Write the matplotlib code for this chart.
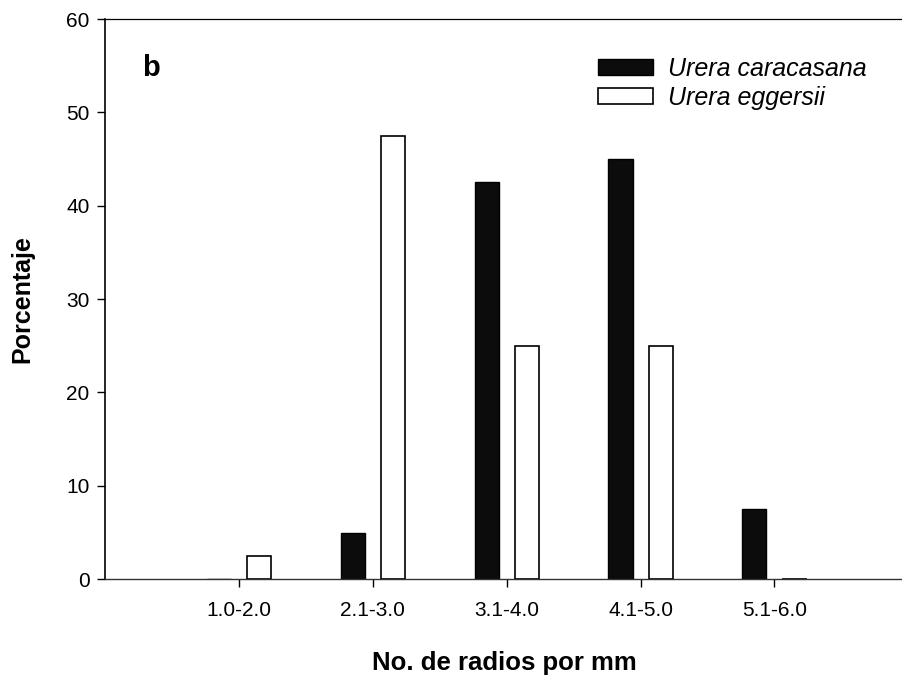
import matplotlib.pyplot as plt
import numpy as np

plt.rcParams['font.family'] = ['Liberation Sans', 'DejaVu Sans']

categorias = ['1.0-2.0', '2.1-3.0', '3.1-4.0', '4.1-5.0', '5.1-6.0']
caracasana = [0, 5, 42.5, 45, 7.5]
eggersii = [2.5, 47.5, 25, 25, 0]

x = np.arange(1, len(categorias) + 1)
ancho = 0.18

fig = plt.figure(figsize=(9.03, 6.79), dpi=100)
ax = fig.add_axes([0.1163, 0.147, 0.8837, 0.825])

ax.bar(x - 0.15, caracasana, ancho, color='#0c0c0c', edgecolor='black',
       linewidth=1.0, label='Urera caracasana')
ax.bar(x + 0.15, eggersii, ancho, color='white', edgecolor='black',
       linewidth=1.2, label='Urera eggersii')

ax.set_xlim(0, 5.96)
ax.set_ylim(0, 60)
ax.set_yticks(range(0, 61, 10))
ax.set_xticks(x)
ax.set_xticklabels(categorias)
ax.tick_params(axis='both', direction='out', length=6, width=1, labelsize=15)
ax.tick_params(axis='x', pad=10)
ax.tick_params(axis='y', pad=5)

ax.spines['right'].set_visible(False)
ax.spines['top'].set_linewidth(0.9)
ax.spines['left'].set_linewidth(1.2)
ax.spines['bottom'].set_linewidth(1.0)
ax.spines['bottom'].set_color('#333333')

ax.set_ylabel('Porcentaje', fontsize=18, fontweight='bold', labelpad=23)
ax.set_xlabel('No. de radios por mm', fontsize=18.5, fontweight='bold', labelpad=22)

ax.text(0.046, 0.899, 'b', transform=ax.transAxes, fontsize=21, fontweight='bold')

leg = ax.legend(loc='upper left', bbox_to_anchor=(0.589, 0.973), frameon=False,
                handlelength=2.2, handleheight=0.65, labelspacing=0.2,
                handletextpad=0.6, prop={'style': 'italic', 'size': 18})

fig.savefig('out.png', dpi=100)
